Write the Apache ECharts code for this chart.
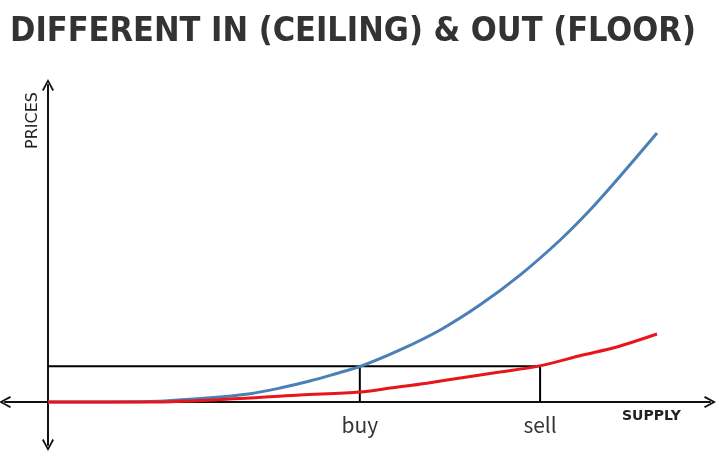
<!DOCTYPE html>
<html>
<head>
<meta charset="utf-8">
<script src="https://cdn.jsdelivr.net/npm/echarts@6/dist/echarts.min.js"></script>
<style>html,body{margin:0;padding:0;background:#fff}#c{width:719px;height:464px}</style>
</head>
<body>
<div id="c"></div>
<script>
// Data (supply 0..100, price 0..100)
const titleText = 'DIFFERENT IN (CEILING) & OUT (FLOOR)';
const ceilingX = [0, 16.7, 26.1, 33.2, 38.1, 43.0, 47.1, 51.4, 57.8, 64.4, 70.9, 77.5, 84.1, 89.0, 93.4, 100];
const ceilingY = [0, 0.2, 1.5, 3.1, 5.2, 7.8, 10.4, 13.3, 19.3, 26.7, 35.9, 47.0, 60.0, 71.1, 82.2, 99.6];
const floorX = [0, 16.7, 33.2, 41.4, 51.2, 56.2, 62.2, 68.8, 74.2, 80.5, 87.8, 93.4, 100];
const floorY = [0, 0, 1.5, 2.6, 3.7, 5.2, 7.0, 9.3, 11.1, 13.3, 17.4, 20.4, 25.2];
const priceLevel = 13.3;
const buyX = 51.2;
const sellX = 80.8;
const tickLabels = ['buy', 'sell'];
const xName = 'SUPPLY';
const yName = 'PRICES';

const zip = (xs, ys) => xs.map((x, i) => [x, ys[i]]);
const chevron = 'path://M0,11 L6,0 L12,11 L10.4,12 L6,3.6 L1.6,12 Z';

const chart = echarts.init(document.getElementById('c'));
chart.setOption({
  animation: false,
  backgroundColor: '#fff',
  title: {
    text: titleText,
    left: 5, top: 10,
    textStyle: { fontFamily: 'DejaVu Sans Condensed', fontWeight: 'bold', fontSize: 34, color: '#333' }
  },
  grid: { left: 5, right: 9, top: 85, bottom: 19, containLabel: false, outerBoundsMode: 'none' },
  xAxis: {
    type: 'value',
    min: -7.06, max: 108.7,
    splitLine: { show: false },
    axisTick: { show: false },
    axisLabel: { show: false },
    axisLine: { onZero: true, lineStyle: { color: '#111', width: 2 }, symbol: [chevron, chevron], symbolSize: [12, 14] }
  },
  yAxis: {
    type: 'value',
    min: -15.9, max: 117.4,
    splitLine: { show: false },
    axisTick: { show: false },
    axisLabel: { show: false },
    axisLine: { onZero: true, lineStyle: { color: '#111', width: 2 }, symbol: [chevron, chevron], symbolSize: [12, 14] }
  },
  graphic: [
    { type: 'text', left: 622, top: 409, style: { text: xName, fontFamily: 'DejaVu Sans', fontWeight: 'bold', fontSize: 14, fill: '#222' } },
    { type: 'text', x: 25, y: 149, rotation: Math.PI / 2, style: { text: yName, fontFamily: 'DejaVu Sans', fontSize: 16, fill: '#222' } }
  ],
  series: [
    {
      type: 'line', data: [[0, priceLevel], [sellX, priceLevel], [sellX, 0]],
      symbol: 'none', lineStyle: { color: '#000', width: 2 }, z: 2
    },
    {
      type: 'line', data: [[buyX, priceLevel], [buyX, 0]],
      symbol: 'none', lineStyle: { color: '#000', width: 2 }, z: 2
    },
    {
      type: 'line', data: zip(ceilingX, ceilingY), smooth: 0.3,
      symbol: 'none', lineStyle: { color: '#4a80b6', width: 3 }, z: 3
    },
    {
      type: 'line', data: zip(floorX, floorY), smooth: 0.3,
      symbol: 'none', lineStyle: { color: '#e8161b', width: 3 }, z: 4
    },
    {
      type: 'scatter', symbolSize: 0, silent: true,
      data: [[buyX, 0, tickLabels[0]], [sellX, 0, tickLabels[1]]],
      label: {
        show: true, position: 'bottom', distance: 12,
        formatter: (p) => p.value[2],
        fontFamily: 'Noto Sans CJK KR', fontSize: 21, color: '#000'
      }
    }
  ]
});
</script>
</body>
</html>
